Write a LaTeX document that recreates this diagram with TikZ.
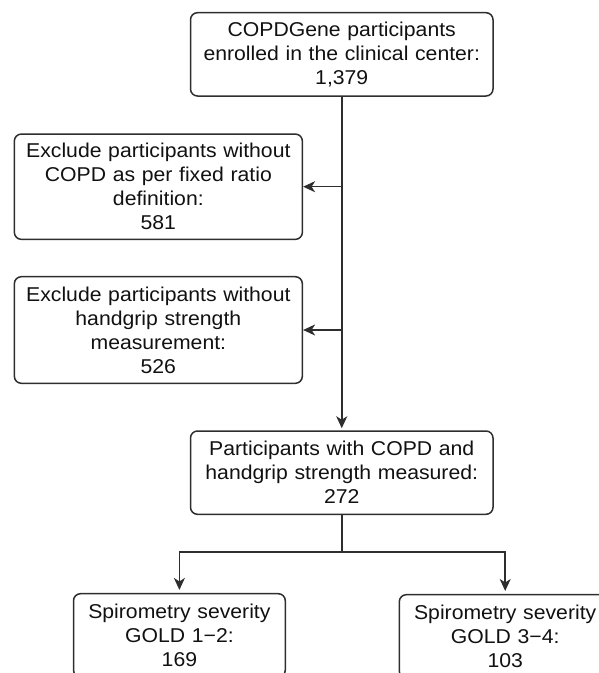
\documentclass[tikz,border=0pt]{standalone}
\usepackage{fontspec}
\setmainfont[FakeStretch=1.06]{Liberation Sans}
\usetikzlibrary{arrows.meta}
\definecolor{linec}{HTML}{2E2E2E}
\definecolor{textc}{HTML}{111111}
\begin{document}
\begin{tikzpicture}[x=1pt,y=-1pt,
  box/.style={draw=linec, line width=1.5pt, rounded corners=7pt, text=textc,
    align=center, inner sep=0pt, font=\fontsize{20}{24}\selectfont},
  arr/.style={draw=linec, line width=1.5pt, -{Stealth[length=12pt,width=11pt,inset=3.5pt]}},
  ln/.style={draw=linec, line width=1.5pt}]
\useasboundingbox (0,0) rectangle (599,673);
\clip (0,0) rectangle (599,673);
\node[box, minimum width=302.5pt, minimum height=83.3pt, text width=295pt] (b1) at (341.75,54.35)
  {COPDGene participants\\enrolled in the clinical center:\\1,379};
\node[box, minimum width=288pt, minimum height=105.3pt, text width=282pt] (b2) at (158.35,186.7)
  {Exclude participants without\\COPD as per fixed ratio\\definition:\\581};
\node[box, minimum width=288pt, minimum height=106.6pt, text width=282pt] (b3) at (158.35,330)
  {Exclude participants without\\handgrip strength\\measurement:\\526};
\node[box, minimum width=302.5pt, minimum height=83.3pt, text width=295pt] (b4) at (341.75,472.65)
  {Participants with COPD and\\handgrip strength measured:\\272};
\node[box, minimum width=211.8pt, minimum height=83.3pt, text width=205pt] (b5) at (179.4,635.35)
  {Spirometry severity\\GOLD 1−2:\\169};
\node[box, minimum width=211.8pt, minimum height=83.3pt, text width=205pt] (b6) at (505.2,636.35)
  {Spirometry severity\\GOLD 3−4:\\103};
\coordinate (split) at (341.75,552);
\draw[arr, shorten >=2pt] (b1.south) -- (b4.north);
\draw[arr] (b1.south |- b2.east) -- (b2.east);
\draw[arr] (b1.south |- b3.east) -- (b3.east);
\draw[ln] (b4.south) -- (split);
\draw[arr, shorten >=3pt] (split) -| (b5.north);
\draw[arr, shorten >=3pt] (split) -| (b6.north);
\end{tikzpicture}
\end{document}
